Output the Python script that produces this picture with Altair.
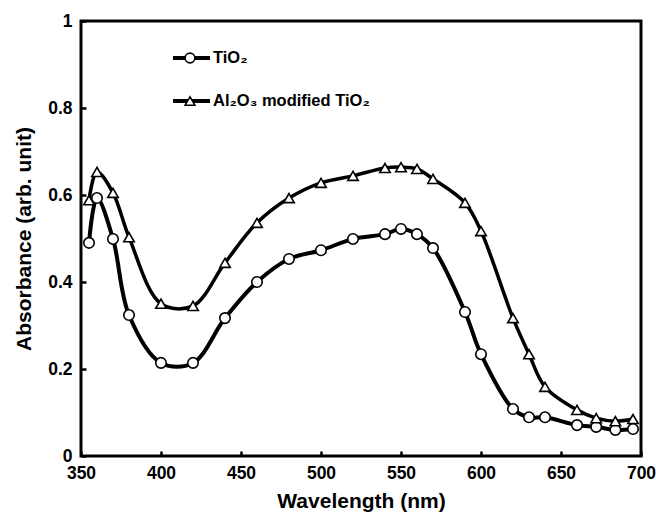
import altair as alt
import pandas as pd

wavelength = [355, 360, 370, 380, 400, 420, 440, 460, 480, 500, 520, 540, 550,
              560, 570, 590, 600, 620, 630, 640, 660, 672, 684, 695]
tio2 = [0.49, 0.593, 0.499, 0.324, 0.214, 0.214, 0.317, 0.40, 0.453, 0.473, 0.499,
        0.51, 0.522, 0.51, 0.478, 0.331, 0.234, 0.108, 0.089, 0.089, 0.071, 0.067,
        0.06, 0.062]
al2o3_tio2 = [0.588, 0.653, 0.605, 0.503, 0.35, 0.345, 0.444, 0.536, 0.593, 0.628,
              0.644, 0.662, 0.664, 0.66, 0.637, 0.582, 0.517, 0.317, 0.234, 0.159,
              0.106, 0.087, 0.08, 0.085]
series_names = ["TiO₂", "Al₂O₃ modified TiO₂"]
x_ticks = [350, 400, 450, 500, 550, 600, 650, 700]
y_ticks = [0, 0.2, 0.4, 0.6, 0.8, 1.0]

FONT = "Liberation Sans"

df = pd.DataFrame({
    "wl": wavelength * 2,
    "abs": tio2 + al2o3_tio2,
    "series": [series_names[0]] * len(wavelength) + [series_names[1]] * len(wavelength),
})

x = alt.X("wl:Q", scale=alt.Scale(domain=[350, 700], nice=False),
          axis=alt.Axis(values=x_ticks, title="Wavelength (nm)", offset=-5,
                        tickSize=5, tickWidth=2.5, tickColor="black", domain=False,
                        grid=False, labelPadding=8, titlePadding=9,
                        labelFontSize=17.5, labelFontWeight="bold", labelFont=FONT,
                        titleFontSize=21, titleFontWeight="bold", titleFont=FONT,
                        labelColor="black", titleColor="black", labelFlush=False))
y = alt.Y("abs:Q", scale=alt.Scale(domain=[0, 1], nice=False),
          axis=alt.Axis(values=y_ticks, title="Absorbance (arb. unit)", offset=-5,
                        tickSize=5, tickWidth=2.5, tickColor="black", domain=False,
                        grid=False, labelPadding=9, titlePadding=13, format=".1~f",
                        labelFontSize=17.5, labelFontWeight="bold", labelFont=FONT,
                        titleFontSize=21, titleFontWeight="bold", titleFont=FONT,
                        labelColor="black", titleColor="black", labelFlush=False))

shape_scale = alt.Scale(domain=series_names, range=["circle", "triangle-up"])
width_scale = alt.Scale(domain=series_names, range=[4, 3.5])

lines = alt.Chart(df).mark_line(interpolate="catmull-rom", color="black").encode(
    x=x, y=y, detail="series:N",
    strokeWidth=alt.StrokeWidth("series:N", scale=width_scale, legend=None),
)
points = alt.Chart(df).mark_point(filled=True, fill="white", stroke="black",
                                  strokeWidth=1.6, size=110, opacity=1).encode(
    x="wl:Q", y="abs:Q",
    shape=alt.Shape("series:N", scale=shape_scale, legend=None),
)

# manual legend (layout positions in pixels)
leg = pd.DataFrame({"series": series_names})
legend_layers = []
for name, ypix, shp in zip(series_names, [37, 80], ["circle", "triangle-up"]):
    base = alt.Chart(leg).transform_filter(alt.datum.series == name)
    legend_layers.append(base.mark_rule(color="black", strokeWidth=4).encode(
        x=alt.value(92), x2=alt.value(129), y=alt.value(ypix)))
    legend_layers.append(base.mark_point(filled=True, fill="white", stroke="black",
                                         strokeWidth=1.6, size=95, opacity=1,
                                         shape=shp).encode(
        x=alt.value(109), y=alt.value(ypix)))
    legend_layers.append(base.mark_text(align="left", baseline="middle", font=FONT,
                                        fontSize=16.5, fontWeight="bold",
                                        color="black").encode(
        x=alt.value(132), y=alt.value(ypix), text="series:N"))

chart = alt.layer(lines, points, *legend_layers).properties(
    width=560, height=435,
    autosize=alt.AutoSizeParams(type="none"),
    padding={"left": 81, "top": 21, "right": 15, "bottom": 57},
    background="white",
).configure_view(stroke="black", strokeWidth=3)

chart.save("out.html", embed_options={"renderer": "svg", "actions": False})
